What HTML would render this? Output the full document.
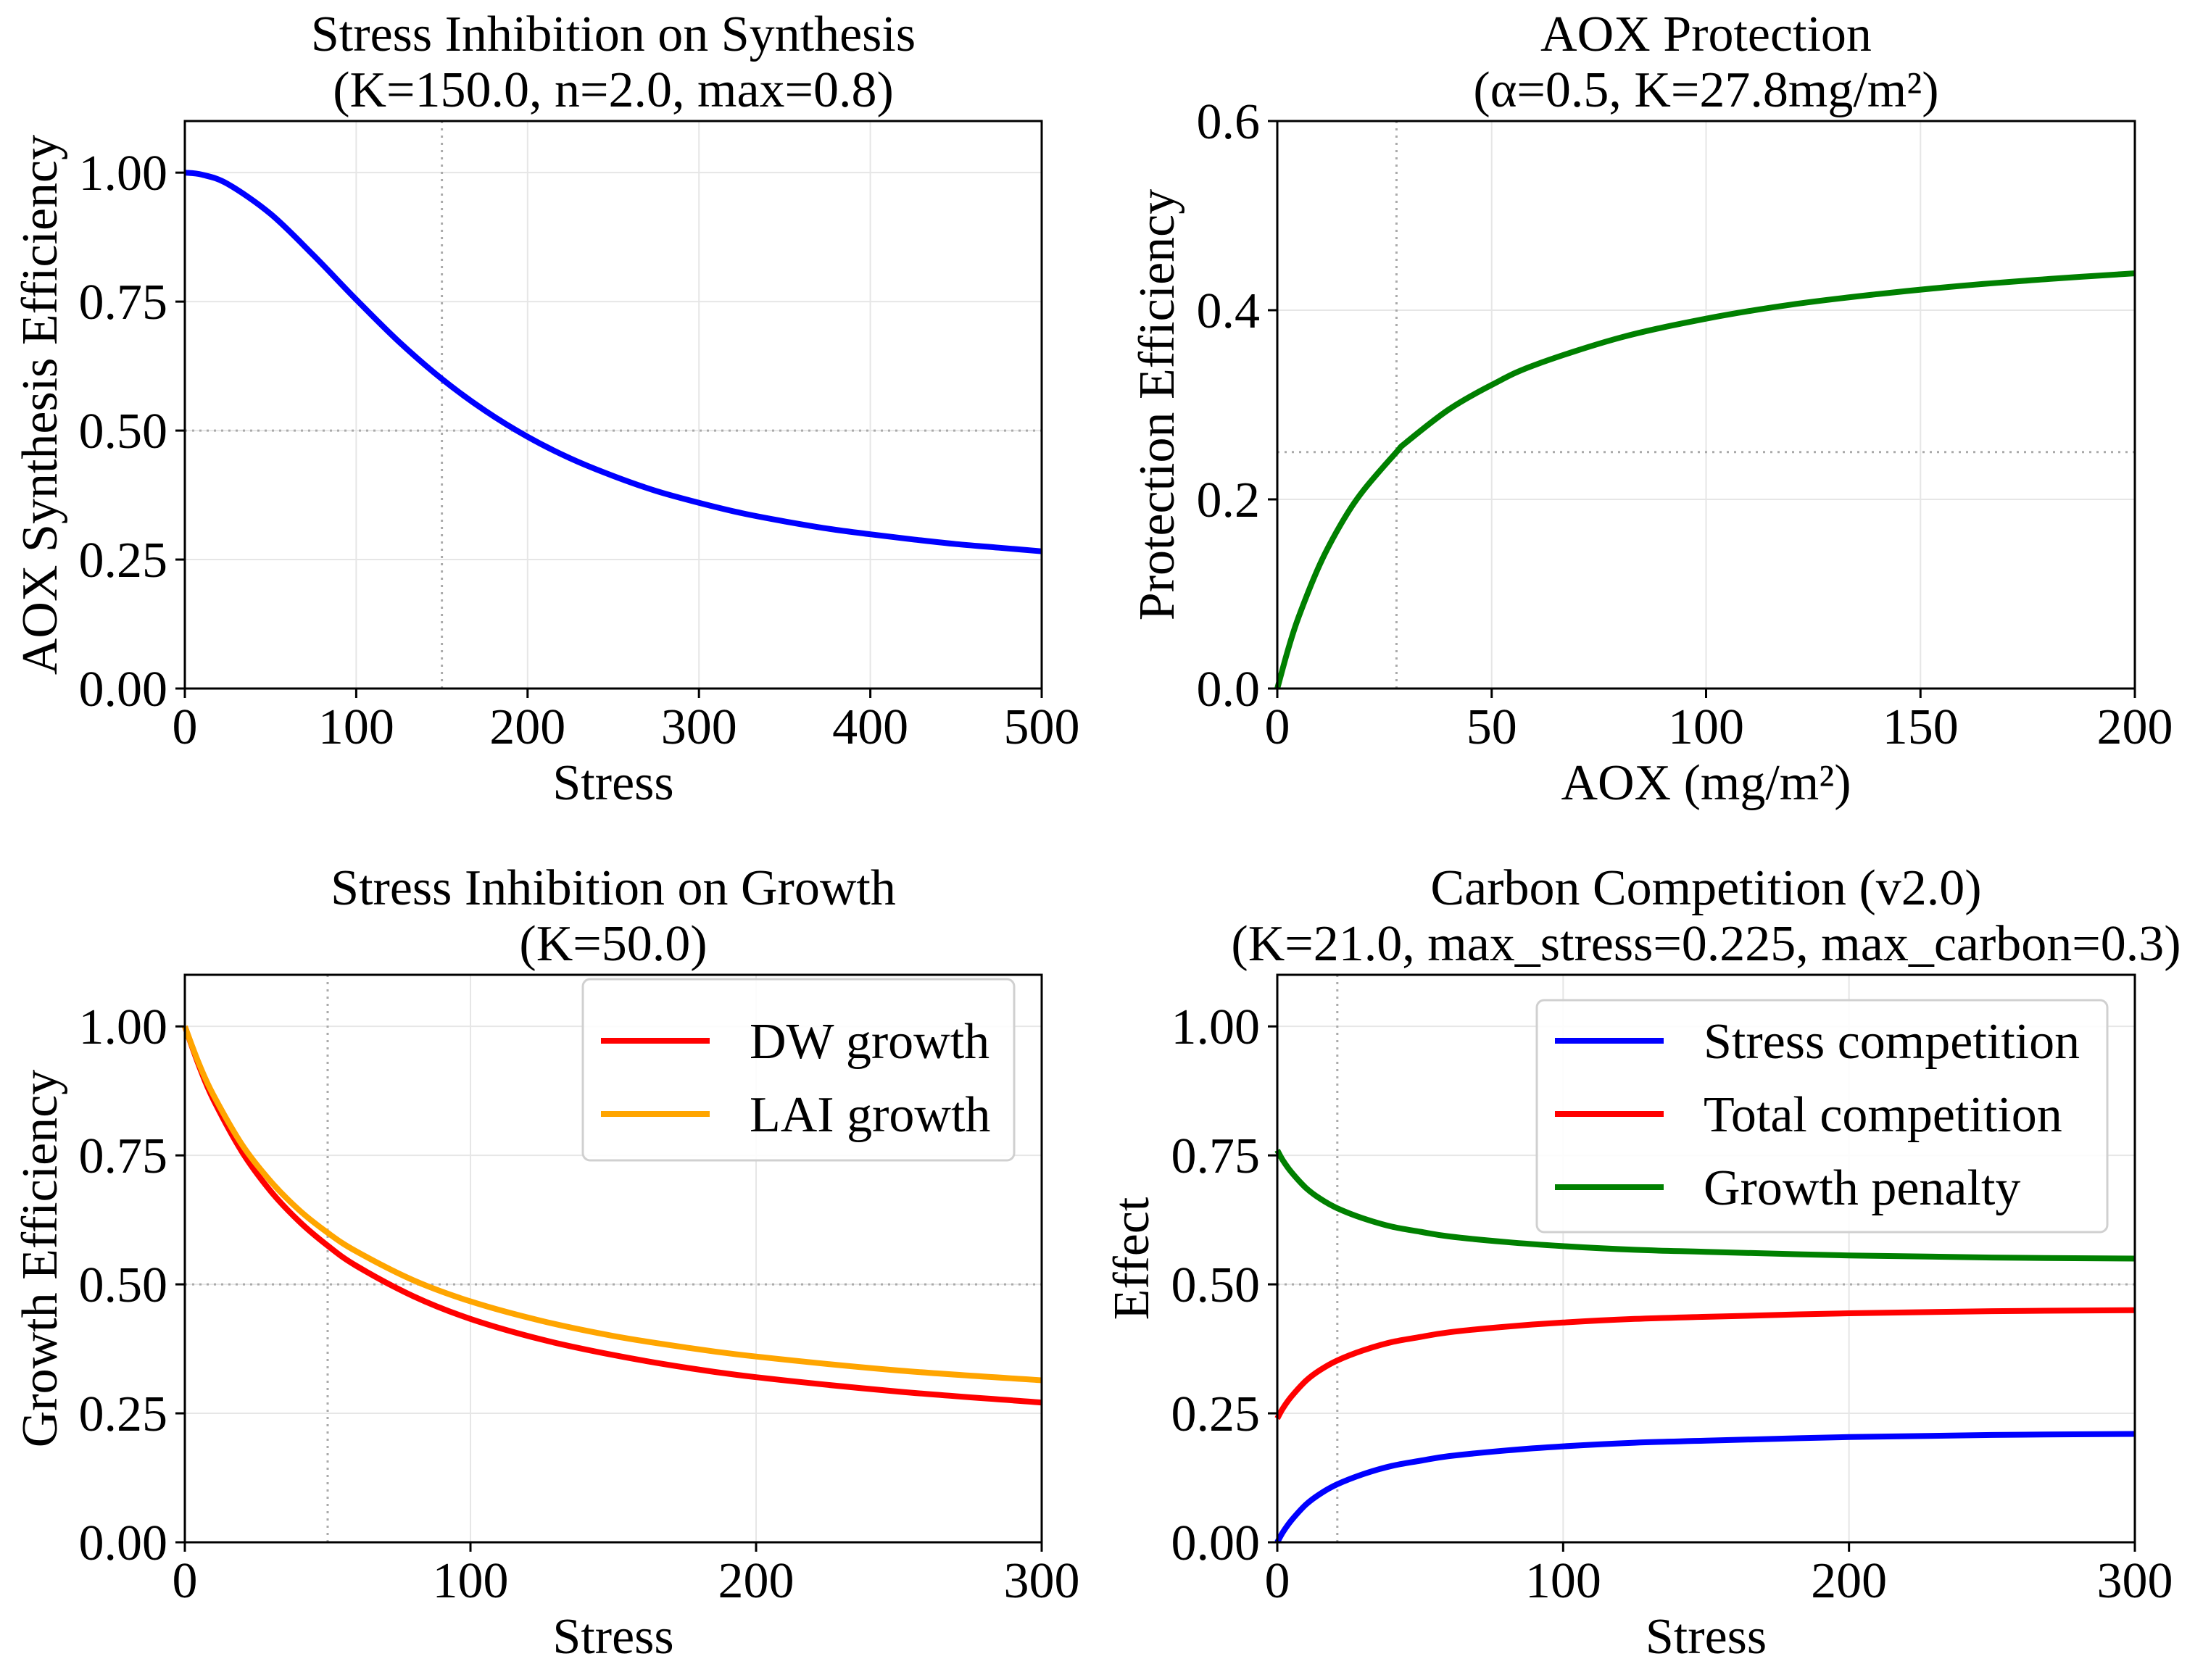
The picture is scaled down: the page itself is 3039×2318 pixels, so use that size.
<!DOCTYPE html>
<html><head><meta charset="utf-8"><style>
body{margin:0;background:#fff}
svg text{font-family:"Liberation Serif",serif;fill:#000}
</style></head><body>
<svg id="fig" width="3039" height="2313" xmlns="http://www.w3.org/2000/svg"></svg>
<script>
// ---- data ----
const tlX=[0,10,25,50,75,100,125,150,175,200,225,250,275,300,325,350,375,400,425,450,475,500];
const tlY=[1.000,0.996,0.978,0.920,0.840,0.754,0.672,0.600,0.539,0.488,0.446,0.412,0.383,0.360,0.340,0.324,0.310,0.299,0.289,0.280,0.273,0.266];
const trX=[0,2.5,5,10,15,20,27.8,30,40,50,60,80,100,120,140,160,180,200];
const trY=[0,0.041,0.076,0.132,0.175,0.209,0.250,0.260,0.295,0.321,0.342,0.371,0.391,0.406,0.417,0.426,0.433,0.439];
const blX=[0,5,10,20,30,40,50,60,80,100,125,150,175,200,250,300];
const blDW=[1,0.923,0.858,0.757,0.681,0.622,0.575,0.536,0.477,0.433,0.393,0.363,0.339,0.320,0.292,0.271];
const blLAI=[1,0.927,0.867,0.771,0.700,0.644,0.600,0.564,0.508,0.467,0.429,0.400,0.378,0.360,0.333,0.314];
const brX=[0,2,5,10,15,21,30,40,50,60,80,100,125,150,200,250,300];
const brStress=[0,0.020,0.043,0.073,0.094,0.1125,0.132,0.148,0.158,0.167,0.178,0.186,0.193,0.197,0.204,0.208,0.210];
const brTotal=[0.240,0.260,0.283,0.313,0.334,0.3525,0.372,0.388,0.398,0.407,0.418,0.426,0.433,0.437,0.444,0.448,0.450];
const brGrowth=[0.760,0.740,0.717,0.687,0.666,0.6475,0.628,0.612,0.602,0.593,0.582,0.574,0.567,0.563,0.556,0.552,0.550];
const ticks500=[0,100,200,300,400,500];
const ticks200=[0,50,100,150,200];
const ticks300=[0,100,200,300];
const yTicks1=[0,0.25,0.5,0.75,1.0];
const yLabels1=["0.00","0.25","0.50","0.75","1.00"];
const yTicks6=[0,0.2,0.4,0.6];
const yLabels6=["0.0","0.2","0.4","0.6"];
// ---- drawing ----
const svg=document.getElementById('fig');
const NS="http://www.w3.org/2000/svg";
function mk(tag,attrs,parent,text){const e=document.createElementNS(NS,tag);for(const k in attrs)e.setAttribute(k,attrs[k]);if(text!==undefined)e.textContent=text;(parent||svg).appendChild(e);return e;}
const FS=70;
function smoothPath(pts){
  let d='M'+pts[0][0].toFixed(1)+','+pts[0][1].toFixed(1);
  for(let i=0;i<pts.length-1;i++){
    const p0=pts[Math.max(0,i-1)],p1=pts[i],p2=pts[i+1],p3=pts[Math.min(pts.length-1,i+2)];
    const c1=[p1[0]+(p2[0]-p0[0])/6,p1[1]+(p2[1]-p0[1])/6];
    const c2=[p2[0]-(p3[0]-p1[0])/6,p2[1]-(p3[1]-p1[1])/6];
    d+=' C'+c1[0].toFixed(1)+','+c1[1].toFixed(1)+' '+c2[0].toFixed(1)+','+c2[1].toFixed(1)+' '+p2[0].toFixed(1)+','+p2[1].toFixed(1);
  }
  return d;
}
function panel(cfg){
  const g=mk('g',{});
  
  
  const L=cfg.L,R=cfg.R,T=cfg.T,B=cfg.B;
  const sx=v=>L+(v-cfg.xmin)/(cfg.xmax-cfg.xmin)*(R-L);
  const sy=v=>B-(v-cfg.ymin)/(cfg.ymax-cfg.ymin)*(B-T);
  cfg.xt.forEach(v=>{const l=mk('line',{x1:sx(v),x2:sx(v),y1:T,y2:B,stroke:'#e6e6e6','stroke-width':2},g);});
  cfg.yt.forEach(v=>{const l=mk('line',{x1:L,x2:R,y1:sy(v),y2:sy(v),stroke:'#e6e6e6','stroke-width':2},g);});
  const rv=mk('line',{x1:sx(cfg.vref),x2:sx(cfg.vref),y1:T,y2:B,stroke:'#aaa','stroke-width':3,'stroke-dasharray':'3 7'},g);
  
  const rh=mk('line',{x1:L,x2:R,y1:sy(cfg.href),y2:sy(cfg.href),stroke:'#aaa','stroke-width':3,'stroke-dasharray':'3 7'},g);
  
  cfg.series.forEach(s=>{
    const pts=s.x.map((x,i)=>[sx(x),sy(s.y[i])]);
    const p=mk('path',{d:smoothPath(pts),fill:'none',stroke:s.color,'stroke-width':8,'stroke-linejoin':'round'},g);
    
  });
  const fr=mk('rect',{x:L,y:T,width:R-L,height:B-T,fill:'none',stroke:'#000','stroke-width':3},g);
  
  cfg.xt.forEach(v=>{
    mk('line',{x1:sx(v),x2:sx(v),y1:B,y2:B+13,stroke:'#000','stroke-width':3},g);
    const t=mk('text',{x:sx(v),y:B+76,'font-size':FS,'text-anchor':'middle'},g,String(v));
    
  });
  cfg.yt.forEach((v,i)=>{
    mk('line',{x1:L-13,x2:L,y1:sy(v),y2:sy(v),stroke:'#000','stroke-width':3},g);
    const t=mk('text',{x:L-24,y:sy(v)+24,'font-size':FS,'text-anchor':'end'},g,cfg.yl[i]);
    
  });
  const xl=mk('text',{x:(L+R)/2,y:B+153,'font-size':FS,'text-anchor':'middle'},g,cfg.xlabel);
  
  const yl=mk('text',{x:0,y:0,'font-size':FS,'text-anchor':'middle',transform:`translate(${cfg.ylx},${(T+B)/2}) rotate(-90)`},g,cfg.ylabel);
  
  cfg.title.forEach((s,i)=>{
    const t=mk('text',{x:(L+R)/2,y:T-97+i*77,'font-size':FS,'text-anchor':'middle'},g,s);
    
  });
  if(cfg.legend){
    const lg=cfg.legend;
    const lb=mk('g',{},g);
    
    mk('rect',{x:lg.x,y:lg.y,width:lg.w,height:lg.h,rx:10,fill:'#fff','fill-opacity':0.85,stroke:'#d0d0d0','stroke-width':3},lb);
    cfg.series.forEach((s,i)=>{
      const yy=lg.y+lg.row0+i*101;
      const e=mk('g',{},lb);
      
      mk('line',{x1:lg.x+25,x2:lg.x+175,y1:yy,y2:yy,stroke:s.color,'stroke-width':8},e);
      mk('text',{x:lg.x+230,y:yy+24,'font-size':FS},e,s.label);
    });
  }
}
panel({name:'synthesis-panel',L:255,R:1437,T:167,B:950,xmin:0,xmax:500,ymin:0,ymax:1.1,xt:ticks500,yt:yTicks1,yl:yLabels1,vref:150,href:0.5,
  xlabel:'Stress',ylabel:'AOX Synthesis Efficiency',ylx:78,title:['Stress Inhibition on Synthesis','(K=150.0, n=2.0, max=0.8)'],
  series:[{name:'synthesis-line',x:tlX,y:tlY,color:'#0000ff'}]});
panel({name:'protection-panel',L:1762,R:2945,T:167,B:950,xmin:0,xmax:200,ymin:0,ymax:0.6,xt:ticks200,yt:yTicks6,yl:yLabels6,vref:27.8,href:0.25,
  xlabel:'AOX (mg/m²)',ylabel:'Protection Efficiency',ylx:1619,title:['AOX Protection','(α=0.5, K=27.8mg/m²)'],
  series:[{name:'protection-line',x:trX,y:trY,color:'#008000'}]});
panel({name:'growth-panel',L:255,R:1437,T:1345,B:2128,xmin:0,xmax:300,ymin:0,ymax:1.1,xt:ticks300,yt:yTicks1,yl:yLabels1,vref:50,href:0.5,
  xlabel:'Stress',ylabel:'Growth Efficiency',ylx:78,title:['Stress Inhibition on Growth','(K=50.0)'],
  series:[{name:'dw-growth-line',label:'DW growth',x:blX,y:blDW,color:'#ff0000'},{name:'lai-growth-line',label:'LAI growth',x:blX,y:blLAI,color:'#ffa500'}],
  legend:{x:804,y:1351,w:595,h:250,row0:85}});
panel({name:'carbon-panel',L:1762,R:2945,T:1345,B:2128,xmin:0,xmax:300,ymin:0,ymax:1.1,xt:ticks300,yt:yTicks1,yl:yLabels1,vref:21,href:0.5,
  xlabel:'Stress',ylabel:'Effect',ylx:1584,title:['Carbon Competition (v2.0)','(K=21.0, max_stress=0.225, max_carbon=0.3)'],
  series:[{name:'stress-competition-line',label:'Stress competition',x:brX,y:brStress,color:'#0000ff'},{name:'total-competition-line',label:'Total competition',x:brX,y:brTotal,color:'#ff0000'},{name:'growth-penalty-line',label:'Growth penalty',x:brX,y:brGrowth,color:'#008000'}],
  legend:{x:2120,y:1380,w:787,h:320,row0:56}});
</script>
</body></html>
